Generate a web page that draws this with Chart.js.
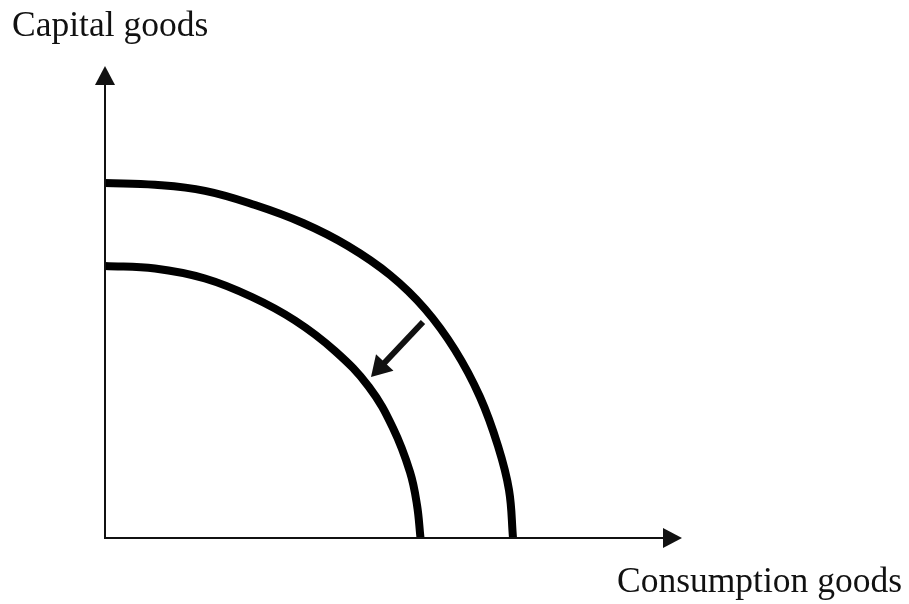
<!DOCTYPE html>
<html>
<head>
<meta charset="utf-8">
<script src="https://cdn.jsdelivr.net/npm/chart.js@4/dist/chart.umd.min.js"></script>
<style>
    html, body { margin: 0; padding: 0; background: #ffffff; }
    #wrap { position: relative; width: 909px; height: 604px; }
    .label {
        position: absolute;
        font-family: "Liberation Serif", "DejaVu Serif", serif;
        font-size: 35.5px;
        line-height: 1;
        color: #111111;
        white-space: nowrap;
    }
    #yLabel { left: 12px; top: 7px; }
    #xLabel { right: 7px; top: 563px; }
</style>
</head>
<body>
<div id="wrap">
    <canvas id="ppfChart" width="909" height="604"></canvas>
    <div class="label" id="yLabel">Capital goods</div>
    <div class="label" id="xLabel">Consumption goods</div>
</div>
<script>
// outer frontier (before the shift)
const outerX = [0, 5.0, 10.0, 15.0, 19.8, 24.3, 28.5, 32.0, 35.0, 37.5, 39.3, 40.4, 40.8];
const outerY = [35.5, 35.32, 34.72, 33.3, 31.5, 29.2, 26.3, 22.9, 18.8, 14.1, 9.2, 4.8, 0];

// inner frontier (after the shift)
const innerX = [0, 5.0, 10.0, 14.7, 19.0, 23.0, 26.4, 28.8, 30.5, 31.2, 31.55];
const innerY = [27.2, 26.95, 25.95, 24.1, 21.75, 18.7, 15.1, 11.0, 6.6, 3.3, 0];

// axis ends and the shift arrow, in data units
const axisXEnd = 57.7;
const axisYEnd = 47.2;
const shiftFrom = [31.8, 21.6];
const shiftTo = [26.6, 16.1];

const toPoints = (xs, ys) => xs.map((x, i) => ({ x: x, y: ys[i] }));

function drawArrow(ctx, x0, y0, x1, y1, lineWidth, headLen, headHalf) {
    const ang = Math.atan2(y1 - y0, x1 - x0);
    const bx = x1 - Math.cos(ang) * headLen;
    const by = y1 - Math.sin(ang) * headLen;
    ctx.save();
    ctx.strokeStyle = '#111111';
    ctx.fillStyle = '#111111';
    ctx.lineWidth = lineWidth;
    ctx.lineCap = 'butt';
    ctx.beginPath();
    ctx.moveTo(x0, y0);
    ctx.lineTo(bx + Math.cos(ang), by + Math.sin(ang));
    ctx.stroke();
    ctx.beginPath();
    ctx.moveTo(x1, y1);
    ctx.lineTo(bx + Math.sin(ang) * headHalf, by - Math.cos(ang) * headHalf);
    ctx.lineTo(bx - Math.sin(ang) * headHalf, by + Math.cos(ang) * headHalf);
    ctx.closePath();
    ctx.fill();
    ctx.restore();
}

const arrowsPlugin = {
    id: 'arrows',
    afterDatasetsDraw(chart) {
        const ctx = chart.ctx;
        const xs = chart.scales.x;
        const ys = chart.scales.y;
        const ox = xs.getPixelForValue(0);
        const oy = ys.getPixelForValue(0);
        // axes
        drawArrow(ctx, ox, oy + 1, ox, ys.getPixelForValue(axisYEnd), 2, 19, 10);
        drawArrow(ctx, ox - 1, oy, xs.getPixelForValue(axisXEnd), oy, 2, 19, 10);
        // shift arrow
        drawArrow(ctx,
            xs.getPixelForValue(shiftFrom[0]), ys.getPixelForValue(shiftFrom[1]),
            xs.getPixelForValue(shiftTo[0]), ys.getPixelForValue(shiftTo[1]),
            6, 20, 12);
    }
};

new Chart(document.getElementById('ppfChart'), {
    type: 'scatter',
    data: {
        datasets: [{
            label: 'Outer',
            data: toPoints(outerX, outerY),
            showLine: true,
            borderColor: '#000000',
            borderWidth: 8,
            pointRadius: 0,
            tension: 0.4,
            clip: false
        }, {
            label: 'Inner',
            data: toPoints(innerX, innerY),
            showLine: true,
            borderColor: '#000000',
            borderWidth: 8,
            pointRadius: 0,
            tension: 0.4,
            clip: false
        }]
    },
    options: {
        responsive: false,
        animation: false,
        layout: {
            padding: { left: 105, right: 204, top: 58, bottom: 66 }
        },
        plugins: {
            legend: { display: false },
            tooltip: { enabled: false }
        },
        scales: {
            x: { type: 'linear', min: 0, max: 60, display: false },
            y: { type: 'linear', min: 0, max: 48, display: false }
        }
    },
    plugins: [arrowsPlugin]
});
</script>
</body>
</html>
